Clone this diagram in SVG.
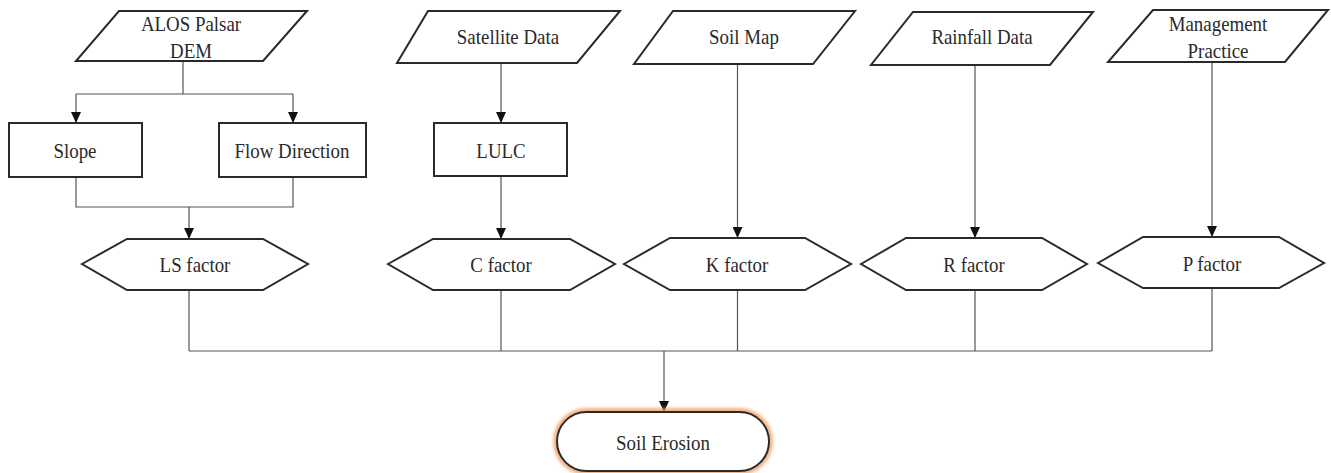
<svg xmlns="http://www.w3.org/2000/svg" width="1331" height="473" viewBox="0 0 1331 473">
<style>
.shape{fill:#fff;stroke:#2a2a2a;stroke-width:2;stroke-linejoin:miter}
.conn{fill:none;stroke:#555;stroke-width:1.2}
.arr{marker-end:url(#ah)}
text{font-family:'Liberation Serif','Times New Roman',Times,serif;font-size:21px;fill:#2a2a2a;text-anchor:middle}
</style>
<defs>
<marker id="ah" markerUnits="userSpaceOnUse" markerWidth="12" markerHeight="10" refX="11" refY="5" orient="auto" viewBox="0 0 12 10">
<path d="M0,0 L11,5 L0,10 Z" fill="#111"/>
</marker>
<filter id="glow" x="-20%" y="-40%" width="140%" height="180%">
<feGaussianBlur stdDeviation="1.8"/>
</filter>
</defs>
<rect width="1331" height="473" fill="#fff"/>

<g id="connectors">
<path class="conn" d="M183,61 V94 M76,94 H293"/>
<path class="conn arr" d="M76,94 V123"/>
<path class="conn arr" d="M293,94 V123"/>
<path class="conn" d="M76,177 V207 H293 V177"/>
<path class="conn arr" d="M189,207 V239"/>
<path class="conn arr" d="M501,63 V123"/>
<path class="conn arr" d="M501,176 V239"/>
<path class="conn arr" d="M737.5,64 V238"/>
<path class="conn arr" d="M975,65 V238"/>
<path class="conn arr" d="M1212,62 V237"/>
<path class="conn" d="M189,290 V351 M501,290 V351 M737.5,290 V351 M975,290 V351 M1212,288 V351 M189,351 H1212"/>
<path class="conn arr" d="M664,351 V412"/>
</g>

<g id="alos">
<polygon class="shape" points="119,11 307,11 263,61 76,61"/>
<text transform="translate(191,31) scale(0.9,1)">ALOS Palsar</text>
<text transform="translate(191,58) scale(0.9,1)">DEM</text>
</g>
<g id="satellite">
<polygon class="shape" points="428,11 620,11 577,63 397,63"/>
<text transform="translate(508,44) scale(0.9,1)">Satellite Data</text>
</g>
<g id="soilmap">
<polygon class="shape" points="673,11 855,11 813,64 634,64"/>
<text transform="translate(744,44) scale(0.9,1)">Soil Map</text>
</g>
<g id="rainfall">
<polygon class="shape" points="913,12 1093,12 1050,65 871,65"/>
<text transform="translate(982,44) scale(0.9,1)">Rainfall Data</text>
</g>
<g id="management">
<polygon class="shape" points="1153,10 1328,10 1285,62 1108,62"/>
<text transform="translate(1218,31) scale(0.9,1)">Management</text>
<text transform="translate(1218,58) scale(0.9,1)">Practice</text>
</g>

<g id="slope">
<rect class="shape" x="9" y="123" width="133" height="54"/>
<text transform="translate(75,158) scale(0.9,1)">Slope</text>
</g>
<g id="flow">
<rect class="shape" x="219" y="123" width="147" height="54"/>
<text transform="translate(292,158) scale(0.9,1)">Flow Direction</text>
</g>
<g id="lulc">
<rect class="shape" x="434" y="123" width="133" height="53"/>
<text transform="translate(501,158) scale(0.9,1)">LULC</text>
</g>

<g id="ls">
<polygon class="shape" points="82,264 127,239 263,239 308,264 263,290 127,290"/>
<text transform="translate(195,272) scale(0.9,1)">LS factor</text>
</g>
<g id="c">
<polygon class="shape" points="388,264 433,239 570,239 615,264 570,290 433,290"/>
<text transform="translate(501,272) scale(0.9,1)">C factor</text>
</g>
<g id="k">
<polygon class="shape" points="624,264 670,238 805,238 851,264 805,290 670,290"/>
<text transform="translate(737,272) scale(0.9,1)">K factor</text>
</g>
<g id="r">
<polygon class="shape" points="861,264 906,238 1042,238 1087,264 1042,290 906,290"/>
<text transform="translate(974,272) scale(0.9,1)">R factor</text>
</g>
<g id="p">
<polygon class="shape" points="1098,263 1143,237 1279,237 1324,263 1279,288 1143,288"/>
<text transform="translate(1212,271) scale(0.9,1)">P factor</text>
</g>

<g id="soilerosion">
<rect x="557" y="412" width="212" height="59" rx="29.5" fill="none" stroke="#f39a5c" stroke-width="8" opacity="0.75" filter="url(#glow)"/>
<rect class="shape" x="557" y="412" width="212" height="59" rx="29.5"/>
<text transform="translate(663,450) scale(0.9,1)">Soil Erosion</text>
</g>
</svg>
